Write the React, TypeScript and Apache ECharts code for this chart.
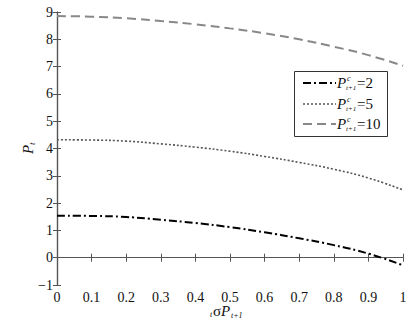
import React, { useEffect, useRef } from "react";
import * as echarts from "echarts";

const xValues = [0, 0.1, 0.2, 0.3, 0.4, 0.5, 0.6, 0.7, 0.8, 0.9, 1];
const seriesC2 = [1.54, 1.53, 1.49, 1.39, 1.27, 1.12, 0.93, 0.71, 0.46, 0.15, -0.28];
const seriesC5 = [4.32, 4.31, 4.27, 4.17, 4.05, 3.9, 3.71, 3.49, 3.24, 2.92, 2.48];
const seriesC10 = [8.85, 8.83, 8.77, 8.67, 8.55, 8.4, 8.22, 8.0, 7.73, 7.42, 7.03];
const legendValues = ["2", "5", "10"];

const FONT = "Liberation Serif";
const AXIS_COLOR = "#555";

const styles = [
  { color: "#000", width: 2, type: [8, 3, 2, 3] as number[] },
  { color: "#555", width: 1.6, type: [2, 2] as number[] },
  { color: "#888", width: 2, type: [9, 5] as number[] },
];

function txt(x: number, y: number, text: string, size: number, italic = false, extra: any = {}) {
  return {
    type: "text",
    x,
    y,
    style: {
      text,
      fontSize: size,
      fontFamily: FONT,
      fontStyle: italic ? "italic" : "normal",
      fill: "#111",
      verticalAlign: "middle",
      align: "left",
      ...extra,
    },
    silent: true,
  };
}

export default function App() {
  const ref = useRef<HTMLDivElement>(null);
  useEffect(() => {
    if (!ref.current) return;
    const chart = echarts.init(ref.current, undefined, { renderer: "svg" });
    const allSeries = [seriesC2, seriesC5, seriesC10];
    const legendRows = [83, 104, 124];
    const legendEls: any[] = [
      {
        type: "rect",
        shape: { x: 294.5, y: 71.5, width: 93, height: 65 },
        style: { fill: "#fff", stroke: "#333", lineWidth: 1 },
        z: 10,
      },
    ];
    legendRows.forEach((yy, i) => {
      legendEls.push({
        type: "line",
        shape: { x1: 303, y1: yy, x2: 336, y2: yy },
        style: { stroke: styles[i].color, lineWidth: styles[i].width, lineDash: styles[i].type },
        z: 11,
      });
      legendEls.push({ ...txt(337, yy, "P", 15, true), z: 11 });
      legendEls.push({ ...txt(347, yy - 5, "c", 8, true), z: 11 });
      legendEls.push({ ...txt(346, yy + 5, "t+1", 7, true), z: 11 });
      legendEls.push({ ...txt(357, yy, "=" + legendValues[i], 15, false), z: 11 });
    });

    const yLabel = {
      type: "group",
      x: 28,
      y: 154,
      rotation: Math.PI / 2,
      children: [txt(0, 0, "P", 15, true), txt(9, 4, "t", 9, true)],
    };
    const xLabel = {
      type: "group",
      x: 210,
      y: 311,
      children: [
        txt(0, 3, "t", 8, true),
        txt(3, 0, "σ", 15, false),
        txt(11, 0, "P", 15, true),
        txt(21, 4, "t+1", 8, true),
      ],
    };

    chart.setOption({
      animation: false,
      grid: { left: 57, right: 8, top: 12, bottom: 43 },
      xAxis: [
        {
          type: "value",
          min: 0,
          max: 1,
          interval: 0.1,
          axisLine: { show: true, lineStyle: { color: AXIS_COLOR, width: 1.2 } },
          axisTick: { show: true, inside: true, length: 4, lineStyle: { color: AXIS_COLOR } },
          splitLine: { show: false },
          axisLabel: {
            color: "#111",
            fontFamily: FONT,
            fontSize: 14,
            margin: 5,
            formatter: (v: number) => String(Math.round(v * 10) / 10),
          },
        },
        {
          type: "value",
          position: "top",
          min: 0,
          max: 1,
          interval: 0.1,
          axisLine: { show: true, lineStyle: { color: AXIS_COLOR, width: 1.2 } },
          axisTick: { show: true, inside: true, length: 4, lineStyle: { color: AXIS_COLOR } },
          splitLine: { show: false },
          axisLabel: { show: false },
        },
      ],
      yAxis: [
        {
          type: "value",
          min: -1,
          max: 9,
          interval: 1,
          axisLine: { show: true, lineStyle: { color: AXIS_COLOR, width: 1.2 } },
          axisTick: { show: true, inside: true, length: 4, lineStyle: { color: AXIS_COLOR } },
          splitLine: { show: false },
          axisLabel: {
            color: "#111",
            fontFamily: FONT,
            fontSize: 14,
            margin: 4,
            formatter: (v: number) => String(v).replace("-", "−"),
          },
        },
        {
          type: "value",
          position: "right",
          min: -1,
          max: 9,
          interval: 1,
          axisLine: { show: true, lineStyle: { color: AXIS_COLOR, width: 1.2 } },
          axisTick: { show: true, inside: true, length: 4, lineStyle: { color: AXIS_COLOR } },
          splitLine: { show: false },
          axisLabel: { show: false },
        },
      ],
      series: allSeries.map((data, i) => ({
        type: "line",
        data: xValues.map((x, j) => [x, data[j]]),
        smooth: true,
        showSymbol: false,
        symbol: "none",
        lineStyle: { color: styles[i].color, width: styles[i].width, type: styles[i].type },
      })),
      graphic: [...legendEls, yLabel, xLabel],
    });
    return () => chart.dispose();
  }, []);
  return (
    <div
      ref={ref}
      style={{ position: "absolute", left: 0, top: 0, width: 411, height: 328 }}
    />
  );
}
